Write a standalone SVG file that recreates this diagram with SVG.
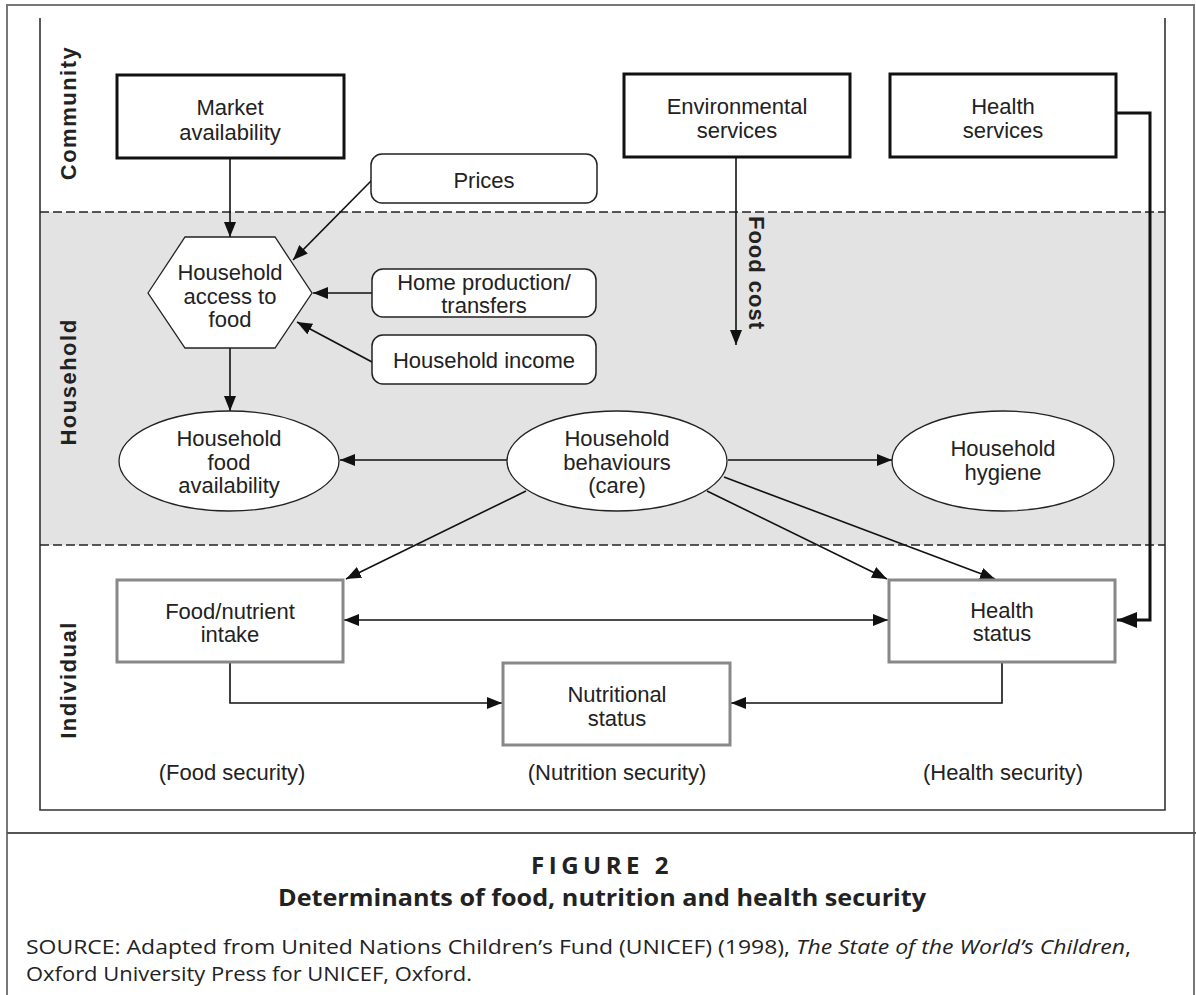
<svg xmlns="http://www.w3.org/2000/svg" width="1196" height="995" viewBox="0 0 1196 995">
<defs>
<style>
.t{font-family:"Liberation Sans",Arial,sans-serif;font-size:22px;fill:#222;text-anchor:middle}
.lab{font-family:"Liberation Sans",Arial,sans-serif;font-size:22px;font-weight:bold;fill:#222;text-anchor:middle;letter-spacing:1.5px}
.cbox{fill:#fff;stroke:#111;stroke-width:3}
.rbox{fill:#fff;stroke:#222;stroke-width:1.5}
.ibox{fill:#fff;stroke:#888;stroke-width:3}
.ell{fill:#fff;stroke:#222;stroke-width:1.3}
.ln{fill:none;stroke:#111;stroke-width:1.6}
.dash{fill:none;stroke:#222;stroke-width:1.5;stroke-dasharray:9 4}
.cap{font-family:"Open Sans","Liberation Sans",sans-serif;fill:#222}
</style>
<marker id="arr" markerUnits="userSpaceOnUse" markerWidth="15" markerHeight="12" refX="15" refY="6" orient="auto-start-reverse"><path d="M0,0 L15,6 L0,12 z" fill="#111"/></marker>
<marker id="big" markerUnits="userSpaceOnUse" markerWidth="20" markerHeight="16" refX="20" refY="8" orient="auto"><path d="M0,0 L20,8 L0,16 z" fill="#111"/></marker>
</defs>
<rect width="1196" height="995" fill="#fff"/>
<g id="frame">
<rect x="7" y="5" width="1187" height="1000" fill="none" stroke="#777" stroke-width="2"/>
<line x1="7" y1="833" x2="1196" y2="833" stroke="#555" stroke-width="2"/>
<rect x="40" y="212" width="1125" height="333" fill="#e3e3e3"/>
<polyline points="40,18 40,810 1165,810 1165,18" fill="none" stroke="#333" stroke-width="1.6"/>
<line class="dash" x1="40" y1="212" x2="1165" y2="212"/>
<line class="dash" x1="40" y1="545" x2="1165" y2="545"/>
<text class="lab" transform="translate(76,113) rotate(-90)">Community</text>
<text class="lab" transform="translate(76,382) rotate(-90)">Household</text>
<text class="lab" transform="translate(76,680) rotate(-90)">Individual</text>
</g>
<g id="connectors">
<line class="ln" x1="230" y1="158" x2="230" y2="237" marker-end="url(#arr)"/>
<line class="ln" x1="372" y1="180" x2="293" y2="260" marker-end="url(#arr)"/>
<line class="ln" x1="372" y1="293" x2="313" y2="293" marker-end="url(#arr)"/>
<line class="ln" x1="372" y1="362" x2="297" y2="322" marker-end="url(#arr)"/>
<line class="ln" x1="230" y1="348" x2="230" y2="411" marker-end="url(#arr)"/>
<line class="ln" x1="736" y1="157" x2="736" y2="345" marker-end="url(#arr)"/>
<text class="lab" style="letter-spacing:1px" transform="translate(749,273) rotate(90)">Food cost</text>
<line class="ln" x1="507" y1="460" x2="340" y2="460" marker-end="url(#arr)"/>
<line class="ln" x1="728" y1="460" x2="892" y2="460" marker-end="url(#arr)"/>
<line class="ln" x1="526" y1="491" x2="346" y2="579" marker-end="url(#arr)"/>
<line class="ln" x1="707" y1="491" x2="887" y2="579" marker-end="url(#arr)"/>
<line class="ln" x1="724" y1="477" x2="995" y2="579" marker-end="url(#arr)"/>
<line class="ln" x1="344" y1="620" x2="888" y2="620" marker-start="url(#arr)" marker-end="url(#arr)"/>
<polyline class="ln" points="230,662 230,703 502,703" marker-end="url(#arr)"/>
<polyline class="ln" points="1002,662 1002,703 731,703" marker-end="url(#arr)"/>
<polyline fill="none" stroke="#111" stroke-width="3" points="1116,113 1150,113 1150,620 1117,620" marker-end="url(#big)"/>
</g>
<g id="market"><rect class="cbox" x="117" y="75" width="227" height="83"/><text class="t" x="230" y="115">Market</text><text class="t" x="230" y="140">availability</text></g>
<g id="environmental"><rect class="cbox" x="624" y="74" width="226" height="83"/><text class="t" x="737" y="114">Environmental</text><text class="t" x="737" y="138">services</text></g>
<g id="healthservices"><rect class="cbox" x="890" y="74" width="226" height="83"/><text class="t" x="1003" y="114">Health</text><text class="t" x="1003" y="138">services</text></g>
<g id="prices"><rect class="rbox" x="371" y="154" width="226" height="49" rx="11"/><text class="t" x="484" y="188">Prices</text></g>
<g id="homeproduction"><rect class="rbox" x="372" y="269" width="224" height="48" rx="11"/><text class="t" x="484" y="290">Home production/</text><text class="t" x="484" y="313">transfers</text></g>
<g id="income"><rect class="rbox" x="372" y="335" width="224" height="49" rx="11"/><text class="t" x="484" y="368">Household income</text></g>
<g id="access"><polygon points="148,293 185,237 275,237 312,293 275,348 185,348" fill="#fff" stroke="#222" stroke-width="1.3"/><text class="t" x="230" y="280">Household</text><text class="t" x="230" y="304">access to</text><text class="t" x="230" y="327">food</text></g>
<g id="foodavail"><ellipse class="ell" cx="229" cy="461" rx="110" ry="50"/><text class="t" x="229" y="446">Household</text><text class="t" x="229" y="470">food</text><text class="t" x="229" y="493">availability</text></g>
<g id="behaviours"><ellipse class="ell" cx="617" cy="461" rx="110" ry="50"/><text class="t" x="617" y="446">Household</text><text class="t" x="617" y="470">behaviours</text><text class="t" x="617" y="493">(care)</text></g>
<g id="hygiene"><ellipse class="ell" cx="1003" cy="461" rx="111" ry="50"/><text class="t" x="1003" y="456">Household</text><text class="t" x="1003" y="480">hygiene</text></g>
<g id="intake"><rect class="ibox" x="117" y="580" width="226" height="82"/><text class="t" x="230" y="619">Food/nutrient</text><text class="t" x="230" y="642">intake</text></g>
<g id="healthstatus"><rect class="ibox" x="889" y="580" width="226" height="82"/><text class="t" x="1002" y="618">Health</text><text class="t" x="1002" y="641">status</text></g>
<g id="nutritional"><rect class="ibox" x="503" y="663" width="227" height="82"/><text class="t" x="617" y="702">Nutritional</text><text class="t" x="617" y="726">status</text></g>
<g id="securities">
<text class="t" x="232" y="780">(Food security)</text>
<text class="t" x="617" y="780">(Nutrition security)</text>
<text class="t" x="1003" y="780">(Health security)</text>
</g>
<g id="caption">
<text class="cap" x="602" y="874" font-size="24" font-weight="bold" text-anchor="middle" letter-spacing="4.5">FIGURE 2</text>
<text class="cap" x="602" y="906" font-size="23" font-weight="bold" text-anchor="middle" textLength="648" lengthAdjust="spacingAndGlyphs">Determinants of food, nutrition and health security</text>
<text class="cap" x="26" y="954" font-size="20" textLength="1105" lengthAdjust="spacingAndGlyphs">SOURCE: Adapted from United Nations Children’s Fund (UNICEF) (1998), <tspan font-style="italic">The State of the World’s Children</tspan>,</text>
<text class="cap" x="26" y="981" font-size="20" textLength="446" lengthAdjust="spacingAndGlyphs">Oxford University Press for UNICEF, Oxford.</text>
</g>
</svg>
